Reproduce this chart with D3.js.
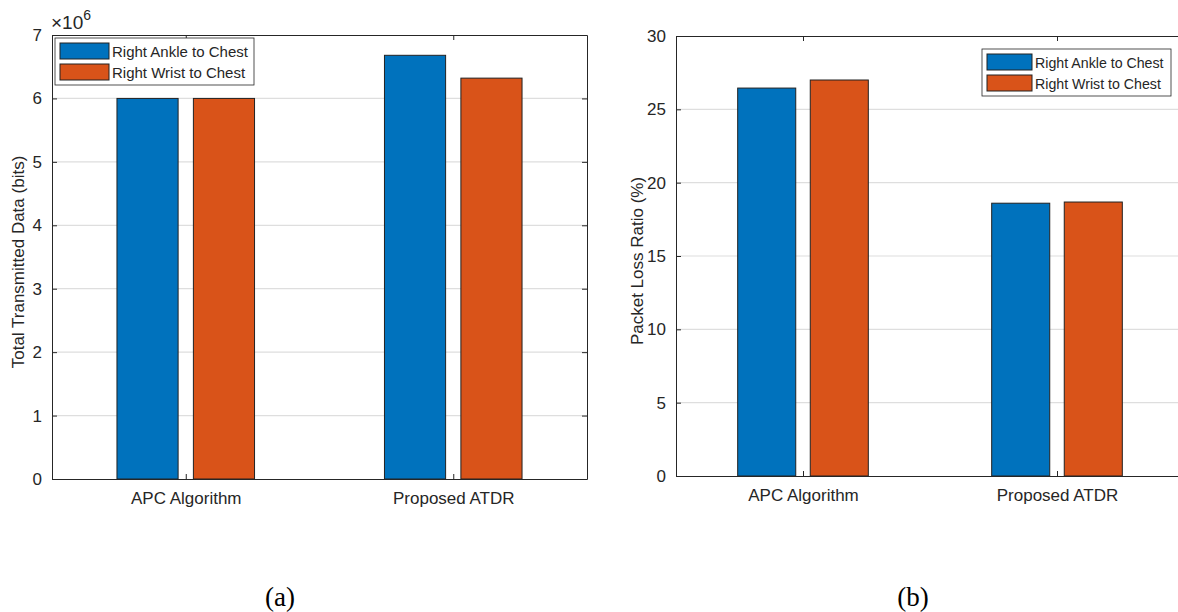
<!DOCTYPE html>
<html>
<head>
<meta charset="utf-8">
<script src="https://cdn.jsdelivr.net/npm/d3@7"></script>
<style>
  body { margin: 0; background: #fff; }
  text { font-family: "Liberation Sans", Arial, sans-serif; fill: #262626; }
  .cap { font-family: "Liberation Serif", "Times New Roman", serif; fill: #000; }
</style>
</head>
<body>
<svg id="chart" width="1178" height="612"></svg>
<script>
var categories = ["APC Algorithm", "Proposed ATDR"];
var seriesNames = ["Right Ankle to Chest", "Right Wrist to Chest"];
var colors = ["#0072BD", "#D95319"];

// panel (a): transmitted data, in units of 10^6 bits
var dataA = [[6.0, 6.0], [6.68, 6.32]];
var ticksA = [0, 1, 2, 3, 4, 5, 6, 7];

// panel (b): packet loss ratio (%)
var dataB = [[26.45, 27.0], [18.6, 18.68]];
var ticksB = [0, 5, 10, 15, 20, 25, 30];

var svg = d3.select("#chart");
var fs = "17px";

function panel(opt) {
    var g = svg.append("g");
    var x = d3.scaleLinear().domain([0.5, 2.5]).range([opt.x0, opt.x1]);
    var y = d3.scaleLinear().domain(opt.domain).range([opt.y0, opt.y1]);

    // grid lines
    g.selectAll(".grid").data(opt.ticks.slice(1, -1)).enter().append("line")
        .attr("x1", opt.x0).attr("x2", opt.x1)
        .attr("y1", d => y(d)).attr("y2", d => y(d))
        .style("stroke", "#dedede").style("stroke-width", 1.2);

    // bars
    var groupW = 2 / 3.5;
    var barW = groupW / 2 * 0.8;
    categories.forEach(function(c, ci) {
        opt.data[ci].forEach(function(v, si) {
            var cx = (ci + 1) + (si === 0 ? -groupW / 4 : groupW / 4);
            g.append("rect")
                .attr("x", x(cx - barW / 2))
                .attr("width", x(cx + barW / 2) - x(cx - barW / 2))
                .attr("y", y(v))
                .attr("height", y(0) - y(v))
                .style("fill", colors[si])
                .style("stroke", "#222").style("stroke-width", 1);
        });
    });

    // axes box
    var yAxis = d3.axisLeft(y).tickValues(opt.ticks).tickFormat(d3.format("d")).tickSizeInner(-5).tickSizeOuter(0).tickPadding(10);
    var yAxisR = d3.axisRight(y).tickValues(opt.ticks).tickSizeInner(-5).tickSizeOuter(0).tickFormat("");
    var xAxis = d3.axisBottom(x).tickValues([1, 2]).tickFormat((d, i) => categories[i]).tickSizeInner(-5).tickSizeOuter(0).tickPadding(13);
    var xAxisT = d3.axisTop(x).tickValues([1, 2]).tickFormat("").tickSizeInner(-5).tickSizeOuter(0);

    var ax = [
        g.append("g").attr("transform", "translate(" + opt.x0 + ",0)").call(yAxis),
        g.append("g").attr("transform", "translate(" + opt.x1 + ",0)").call(yAxisR),
        g.append("g").attr("transform", "translate(0," + opt.y0 + ")").call(xAxis),
        g.append("g").attr("transform", "translate(0," + opt.y1 + ")").call(xAxisT)
    ];
    ax.forEach(function(a) {
        a.selectAll("path, line").style("stroke", "#262626").style("stroke-width", 1);
        a.selectAll("text").style("font-size", fs).style("font-family", "Liberation Sans, Arial, sans-serif").style("fill", "#262626");
    });

    // y label
    g.append("text")
        .attr("transform", "translate(" + opt.labelX + "," + ((opt.y0 + opt.y1) / 2 + 5) + ") rotate(-90)")
        .attr("text-anchor", "middle")
        .style("font-size", fs)
        .text(opt.ylabel);

    // legend
    var lg = g.append("g").attr("transform", "translate(" + opt.legX + "," + opt.legY + ")");
    lg.append("rect").attr("width", opt.legW).attr("height", 47)
        .style("fill", "#fff").style("stroke", "#262626").style("stroke-width", 0.8);
    seriesNames.forEach(function(n, i) {
        lg.append("rect").attr("x", 5).attr("y", 5 + i * 21).attr("width", opt.swW).attr("height", 16)
            .style("fill", colors[i]).style("stroke", "#222").style("stroke-width", 1);
        lg.append("text").attr("x", opt.swW + 8).attr("y", 18.5 + i * 21)
            .style("font-size", opt.legFont).text(n);
    });

    // caption
    svg.append("text").attr("class", "cap")
        .attr("x", opt.capX).attr("y", 606)
        .attr("text-anchor", "middle")
        .style("font-size", "27px")
        .text(opt.caption);

    return g;
}

var gA = panel({
    id: "a", x0: 52, x1: 587, y0: 479, y1: 35,
    domain: [0, 7], ticks: ticksA, data: dataA,
    ylabel: "Total Transmitted Data (bits)", labelX: 24,
    legX: 55, legY: 38, legW: 199, swW: 49, legFont: "15px",
    caption: "(a)", capX: 280
});

// exponent label
var ex = gA.append("text").attr("x", 51).attr("y", 29).style("font-size", "19px");
ex.append("tspan").text("\u00d710");
ex.append("tspan").attr("dy", -9).style("font-size", "14px").text("6");

panel({
    id: "b", x0: 676, x1: 1184, y0: 476, y1: 36,
    domain: [0, 30], ticks: ticksB, data: dataB,
    ylabel: "Packet Loss Ratio (%)", labelX: 643,
    legX: 982, legY: 49, legW: 189, swW: 45, legFont: "14.2px",
    caption: "(b)", capX: 913
});
</script>
</body>
</html>
